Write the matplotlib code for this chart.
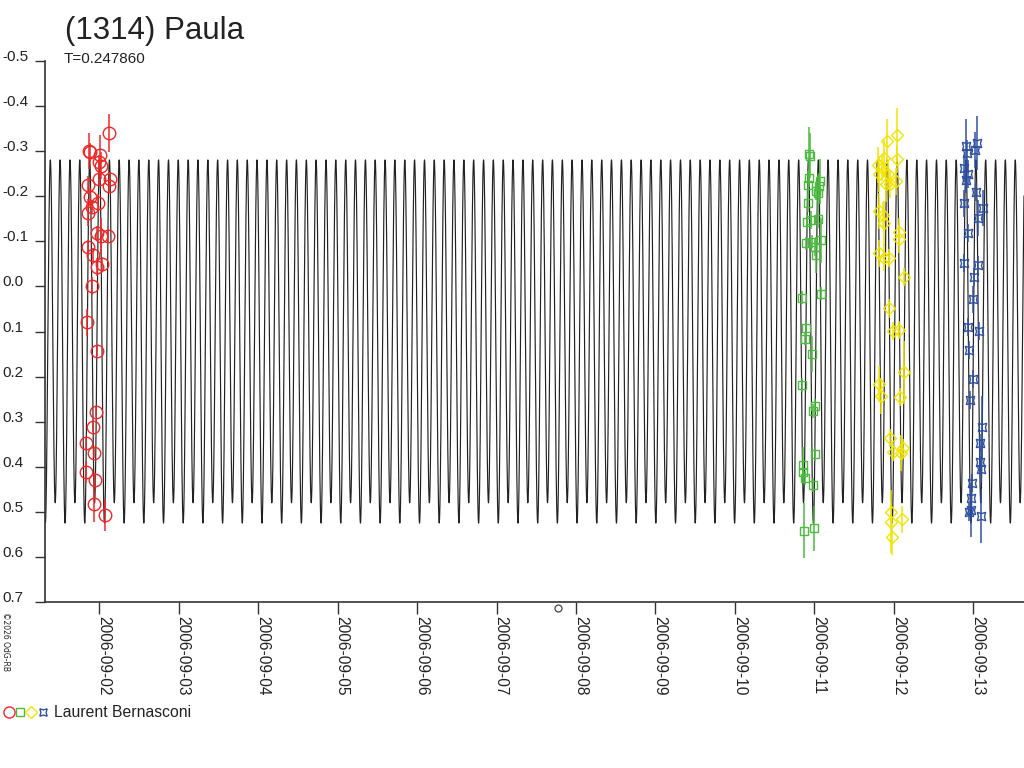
import matplotlib
matplotlib.use('Agg')
import matplotlib.pyplot as plt
import matplotlib.dates as mdates
from matplotlib.legend_handler import HandlerTuple
from matplotlib.lines import Line2D
from matplotlib.transforms import blended_transform_factory
import numpy as np
from datetime import datetime

# ---------------- data ----------------
title = "(1314) Paula"
subtitle = "T=0.247860"
observer = "Laurent Bernasconi"
copyright_txt = "\u00a92026 OdG-RB"

# model lightcurve (days of September 2006)
period = 0.247860
epoch_day = 2.065
model_c0 = 0.111
model_a2 = 0.391      # 2nd harmonic amplitude
model_a1 = 0.0225     # 1st harmonic amplitude
model_start_day = 1.317
model_end_day = 13.639

# session 1 (red circles)
red_day = [2.122, 1.870, 1.883, 2.013, 1.992, 2.018, 1.992, 2.135, 1.862, 2.122, 1.887, 1.987,
           1.904, 1.862, 1.975, 2.021, 2.110, 1.854, 1.917, 2.038, 1.975, 1.912, 1.845, 1.967,
           1.955, 1.924, 1.836, 1.930, 1.829, 1.950, 1.937, 2.068]
red_mag = [-0.340, -0.300, -0.297, -0.291, -0.276, -0.267, -0.238, -0.238, -0.225, -0.223, -0.198, -0.185,
           -0.176, -0.163, -0.118, -0.112, -0.111, -0.088, -0.069, -0.050, -0.042, -0.001, 0.080, 0.143,
           0.278, 0.311, 0.348, 0.369, 0.411, 0.428, 0.483, 0.507]
red_err = [0.042, 0.040, 0.020, 0.045, 0.015, 0.030, 0.015, 0.015, 0.020, 0.015, 0.020, 0.020,
           0.015, 0.030, 0.015, 0.040, 0.015, 0.015, 0.015, 0.015, 0.020, 0.020, 0.030, 0.012,
           0.012, 0.012, 0.015, 0.012, 0.025, 0.015, 0.040, 0.035]

# session 2 (green squares)
green_day = [10.930, 10.946, 10.933, 10.917, 11.076, 11.055, 11.021, 11.050, 10.917, 10.904, 10.958, 11.047,
             10.892, 10.967, 11.081, 11.013, 11.021, 11.088, 10.841, 10.892, 10.883, 10.967, 10.841, 11.009,
             10.980, 11.009, 10.862, 10.854, 10.883, 10.980, 10.867, 10.992]
green_mag = [-0.293, -0.289, -0.241, -0.225, -0.233, -0.222, -0.211, -0.206, -0.185, -0.143, -0.147, -0.149,
             -0.095, -0.099, -0.102, -0.087, -0.070, 0.016, 0.025, 0.093, 0.116, 0.149, 0.218, 0.264,
             0.276, 0.371, 0.396, 0.412, 0.425, 0.440, 0.541, 0.536]
green_err = [0.060, 0.050, 0.020, 0.030, 0.050, 0.030, 0.020, 0.040, 0.020, 0.015, 0.020, 0.020,
             0.015, 0.015, 0.050, 0.020, 0.040, 0.015, 0.015, 0.015, 0.015, 0.040, 0.015, 0.015,
             0.015, 0.015, 0.040, 0.015, 0.015, 0.015, 0.060, 0.050]

# session 3 (yellow diamonds)
yellow_day = [12.038, 11.912, 11.883, 12.038, 11.799, 11.854, 11.811, 11.930, 12.030, 11.955, 11.904, 11.811,
              11.862, 11.874, 12.063, 12.063, 11.820, 11.883, 11.946, 12.126, 11.946, 11.996, 12.072, 12.126,
              11.820, 11.833, 12.076, 11.958, 12.113, 11.987, 12.093, 11.967, 12.106, 11.967, 11.980]
yellow_mag = [-0.335, -0.321, -0.284, -0.282, -0.269, -0.263, -0.249, -0.248, -0.233, -0.226, -0.226, -0.167,
              -0.158, -0.140, -0.121, -0.105, -0.073, -0.063, -0.062, -0.021, 0.049, 0.099, 0.097, 0.190,
              0.217, 0.243, 0.245, 0.335, 0.358, 0.366, 0.370, 0.499, 0.516, 0.521, 0.555]
yellow_err = [0.060, 0.050, 0.040, 0.030, 0.040, 0.030, 0.040, 0.030, 0.030, 0.030, 0.040, 0.040,
              0.030, 0.050, 0.030, 0.030, 0.030, 0.030, 0.020, 0.020, 0.020, 0.020, 0.020, 0.070,
              0.040, 0.040, 0.020, 0.020, 0.020, 0.020, 0.040, 0.020, 0.030, 0.070, 0.040]

# session 4 (blue stars)
blue_day = [12.904, 13.043, 13.021, 12.917, 12.887, 12.930, 12.904, 13.034, 12.887, 13.118, 13.063, 12.930,
            12.883, 13.063, 13.005, 12.996, 12.937, 13.068, 12.950, 13.000, 12.958, 13.113, 13.081, 13.081,
            13.093, 12.987, 12.971, 12.971, 13.097, 12.946]
blue_mag = [-0.311, -0.317, -0.302, -0.295, -0.262, -0.249, -0.236, -0.210, -0.184, -0.173, -0.151, -0.118,
            -0.051, -0.047, -0.021, 0.029, 0.089, 0.099, 0.141, 0.206, 0.252, 0.312, 0.348, 0.389,
            0.405, 0.436, 0.470, 0.496, 0.509, 0.499]
blue_err = [0.060, 0.060, 0.040, 0.030, 0.030, 0.030, 0.030, 0.020, 0.030, 0.040, 0.040, 0.020,
            0.020, 0.020, 0.020, 0.030, 0.020, 0.020, 0.020, 0.020, 0.020, 0.070, 0.020, 0.030,
            0.030, 0.020, 0.020, 0.060, 0.060, 0.020]

marker_day = 7.777  # small reference circle under the axis

ytick_values = [-0.5, -0.4, -0.3, -0.2, -0.1, 0.0, 0.1, 0.2, 0.3, 0.4, 0.5, 0.6, 0.7]
ytick_labels = ["-0.5", "-0.4", "-0.3", "-0.2", "-0.1", "0.0", "0.1", "0.2", "0.3", "0.4", "0.5", "0.6", "0.7"]

# ---------------- styling ----------------
plt.rcParams['font.family'] = ['Liberation Sans', 'DejaVu Sans']
plt.rcParams['axes.unicode_minus'] = False

RED = '#f02828'
GREEN = '#4dbb3f'
YELLOW = '#f2e400'
BLUE = '#2e4fa3'
AXC = '#333333'
TXT = '#222222'

W, H = 1024, 768
fig = plt.figure(figsize=(W / 100, H / 100), dpi=100)
ax_top, ax_bot, ax_left = 60.7, 602.3, 45
ax = fig.add_axes([ax_left / W, 1 - ax_bot / H, (W - ax_left) / W, (ax_bot - ax_top) / H])

sep0 = mdates.date2num(datetime(2006, 8, 31))

# model curve
t = np.linspace(model_start_day, model_end_day, 40000)
ph = (t - epoch_day) / period
model = model_c0 + model_a2 * np.cos(4 * np.pi * ph) + model_a1 * np.cos(2 * np.pi * ph)
ax.plot(sep0 + t, model, color='#222222', lw=0.85, zorder=1)

series = [
    (red_day, red_mag, red_err, RED, 'o', 9.0, 8.0),
    (green_day, green_mag, green_err, GREEN, 's', 6.2, 5.8),
    (yellow_day, yellow_mag, yellow_err, YELLOW, 'D', 6.5, 5.8),
    (blue_day, blue_mag, blue_err, BLUE, (4, 1, 45), 8.5, 7.5),
]
handles = []
for d, m, e, c, mk, ms, lms in series:
    x = sep0 + np.array(d)
    ax.errorbar(x, m, yerr=e, fmt='none', ecolor=c, elinewidth=1.1, capsize=0, zorder=2)
    ax.plot(x, m, ls='none', marker=mk, mfc='none', mec=c, ms=ms, mew=1.0, zorder=3)
    handles.append(Line2D([], [], ls='none', marker=mk, mfc='none', mec=c, ms=lms, mew=1.0))

# small reference circle below the axis
btr = blended_transform_factory(ax.transData, ax.transAxes)
ax.plot([sep0 + marker_day], [-6 / (ax_bot - ax_top)], ls='none', marker='o', mfc='none',
        mec='#444444', ms=5, mew=0.9, transform=btr, clip_on=False)

ax.set_xlim(sep0 + model_start_day, sep0 + model_end_day)
ax.set_ylim(0.7, -0.5)

for s in ['top', 'right']:
    ax.spines[s].set_visible(False)
for s in ['left', 'bottom']:
    ax.spines[s].set_color(AXC)
    ax.spines[s].set_linewidth(1.2)

ax.set_yticks(ytick_values)
ax.set_yticklabels(ytick_labels)
ax.tick_params(axis='y', length=7.2, width=1.0, color=AXC, pad=23.8, labelsize=11, labelcolor=TXT)
for lbl in ax.get_yticklabels():
    lbl.set_ha('left')
    lbl.set_va('baseline')

ax.xaxis.set_major_locator(mdates.DayLocator())
ax.xaxis.set_major_formatter(mdates.DateFormatter('%Y-%m-%d'))
ax.tick_params(axis='x', length=8.6, width=1.0, color=AXC, pad=1.5, labelsize=11.2,
               labelcolor=TXT, labelrotation=-90)
for lbl in ax.get_xticklabels():
    lbl.set_ha('left')
    lbl.set_va('baseline')
    lbl.set_rotation_mode('anchor')

# texts
fig.text(65 / W, 1 - 39.5 / H, title, fontsize=22.5, color=TXT, ha='left', va='baseline')
fig.text(64 / W, 1 - 63.3 / H, subtitle, fontsize=11, color=TXT, ha='left', va='baseline')
fig.text(5 / W, 1 - 612 / H, copyright_txt, fontsize=5.5, color=TXT, rotation=-90,
         ha='center', va='top', family=['DejaVu Sans'])

leg = fig.legend(handles=[tuple(handles)], labels=[observer],
                 handler_map={tuple: HandlerTuple(ndivide=None, pad=0.0)},
                 loc='center left', bbox_to_anchor=(3 / W, 1 - 712.5 / H),
                 bbox_transform=fig.transFigure, frameon=False, fontsize=11.3,
                 handlelength=2.9, handletextpad=0.35, borderpad=0, borderaxespad=0)
for txt in leg.get_texts():
    txt.set_color(TXT)

fig.savefig('out.png', dpi=100)
